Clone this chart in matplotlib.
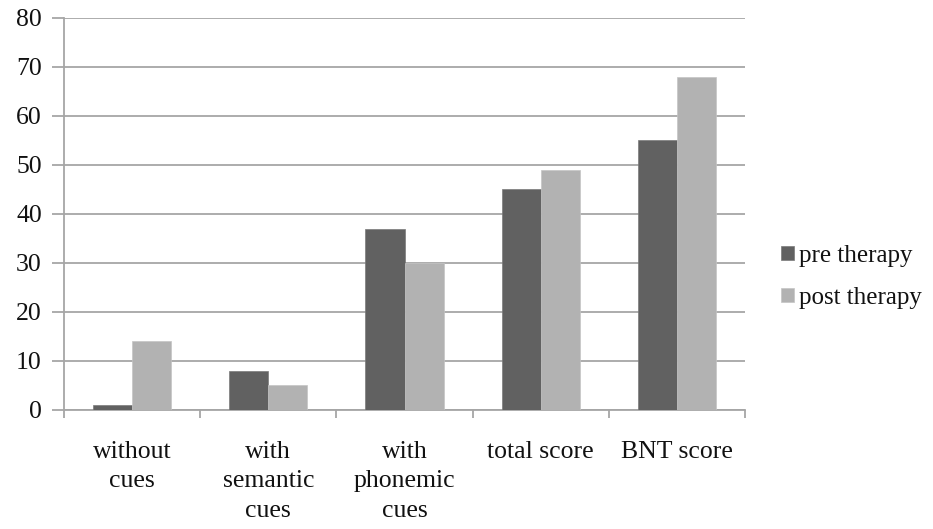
import matplotlib
matplotlib.use("Agg")
import matplotlib.pyplot as plt
import numpy as np

categories = ["without\ncues", "with\nsemantic\ncues", "with\nphonemic\ncues", "total score", "BNT score"]
pre_therapy = [1, 8, 37, 45, 55]
post_therapy = [14, 5, 30, 49, 68]
series_names = ["pre therapy", "post therapy"]
yticks = [0, 10, 20, 30, 40, 50, 60, 70, 80]

plt.rcParams['font.family'] = ['Liberation Serif', 'DejaVu Serif']

fig = plt.figure(figsize=(9.33, 5.29), dpi=100)
ax = fig.add_axes([0.0686, 0.225, 0.7299, 0.741])

x = np.arange(len(categories))
w = 0.287
grid_c = '#a6a6a6'
fs = 18.5
ax.bar(x - w/2, pre_therapy, w, color='#616161', edgecolor='#7a7a7a', linewidth=0.5, label=series_names[0], zorder=3)
ax.bar(x + w/2, post_therapy, w, color='#b2b2b2', edgecolor='#c4c4c4', linewidth=0.5, label=series_names[1], zorder=3)

ax.set_xlim(-0.5, len(categories) - 0.5)
ax.set_ylim(0, 80)
ax.set_yticks(yticks)
ax.yaxis.grid(True, color=grid_c, linewidth=1.3, zorder=0)
ax.set_axisbelow(True)

for s in ['top', 'right']:
    ax.spines[s].set_visible(False)
for s in ['left', 'bottom']:
    ax.spines[s].set_color(grid_c)
    ax.spines[s].set_linewidth(1.3)

ax.set_xticks(np.arange(len(categories) + 1) - 0.5, minor=False)
ax.set_xticklabels([])
ax.tick_params(axis='x', which='major', length=6, color=grid_c, width=1.3)
ax.set_xticks(x, minor=True)
ax.set_xticklabels(categories, minor=True, fontsize=fs, linespacing=1.45, va='top', color='#111111')
ax.tick_params(axis='x', which='minor', length=0, pad=22)
ax.tick_params(axis='y', length=9, color=grid_c, width=1.3, labelsize=fs, pad=7, labelcolor='#111111')

leg = ax.legend(loc='center left', bbox_to_anchor=(1.02, 0.34), frameon=False,
                fontsize=18, handlelength=0.5, handleheight=0.5, handletextpad=0.2,
                labelspacing=0.8)
for t in leg.get_texts():
    t.set_color('#111111')

fig.savefig("out.png", dpi=100)
